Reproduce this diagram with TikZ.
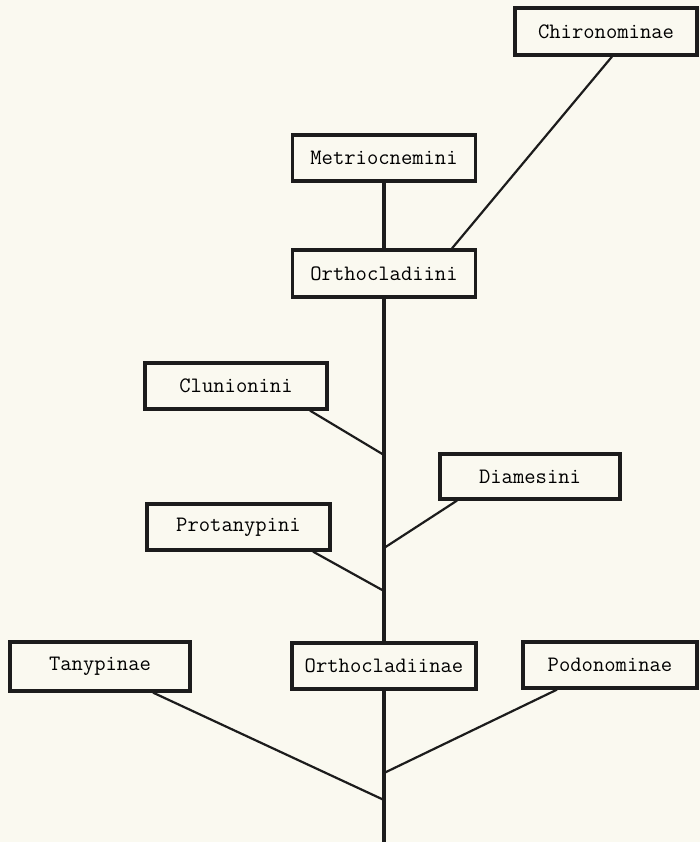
\documentclass[tikz,border=0pt]{standalone}
\definecolor{paper}{RGB}{250,249,240}
\definecolor{ink}{RGB}{28,28,28}
\begin{document}
\begin{tikzpicture}[x=1pt,y=-1pt,
  taxon/.style={draw=ink,line width=3.2pt,rectangle,inner sep=0pt,
    minimum height=46pt,text=black,
    font=\ttfamily\fontsize{22}{24}\selectfont},
  trunk/.style={draw=ink,line width=3.4pt},
  branch/.style={draw=ink,line width=2.2pt}]
\fill[paper] (0,0) rectangle (700,842);
\useasboundingbox (0,0) rectangle (700,842);
\node[taxon,minimum width=182pt,minimum height=47pt] (chir) at (606,31.5) {Chironominae};
\node[taxon,minimum width=183pt] (metr) at (384,158) {Metriocnemini};
\node[taxon,minimum width=183pt,minimum height=47pt] (orthi) at (384,273.5) {Orthocladiini};
\node[taxon,minimum width=182pt] (clun) at (236,386) {Clunionini};
\node[taxon,minimum width=180pt,minimum height=45pt] (diam) at (530,476.5) {Diamesini};
\node[taxon,minimum width=183pt] (prot) at (238.5,527) {Protanypini};
\node[taxon,minimum width=180pt,minimum height=49pt] (tany) at (100,666.5) {Tanypinae};
\node[taxon,minimum width=184pt] (orthinae) at (384,666) {Orthocladiinae};
\node[taxon,minimum width=174pt] (podo) at (610,665) {Podonominae};
\coordinate (j1) at (384,455);
\coordinate (j2) at (384,548);
\coordinate (j3) at (384,591);
\coordinate (j4) at (384,773);
\coordinate (j5) at (384,800);
\coordinate (root) at (384,842);
\draw[trunk] (metr.south) -- (orthi.north);
\draw[trunk] (orthi.south) -- (orthinae.north);
\draw[trunk] (orthinae.south) -- (root);
\draw[branch] ([xshift=6pt]chir.south) -- ([xshift=68pt]orthi.north);
\draw[branch] ([xshift=74pt]clun.south) -- (j1);
\draw[branch] ([xshift=-73pt]diam.south) -- (j2);
\draw[branch] ([xshift=74.5pt]prot.south) -- (j3);
\draw[branch] ([xshift=-53pt]podo.south) -- (j4);
\draw[branch] ([xshift=53pt]tany.south) -- (j5);
\end{tikzpicture}
\end{document}
